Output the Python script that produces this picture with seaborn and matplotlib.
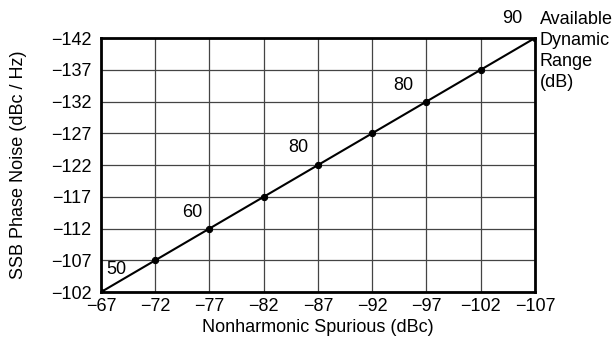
import matplotlib
matplotlib.use("Agg")
import matplotlib.pyplot as plt
import seaborn as sns
import pandas as pd

spurious = [-67, -72, -77, -82, -87, -92, -97, -102, -107]
phase_noise = [-102, -107, -112, -117, -122, -127, -132, -137, -142]
range_labels = ["50", "60", "80", "80", "90"]
range_label_x = [-68.4, -75.4, -85.2, -94.9, -104.9]
range_label_y = [-105.5, -114.6, -124.7, -134.6, -145.0]

sns.set_theme(style="white")
plt.rcParams['font.family'] = ['Liberation Sans', 'DejaVu Sans']

df = pd.DataFrame({"x": spurious, "y": phase_noise})

fig = plt.figure(figsize=(6.14, 3.44), dpi=100)
ax = fig.add_axes([0.1645, 0.151, 0.7068, 0.7385])

sns.lineplot(data=df, x="x", y="y", ax=ax, color="black", linewidth=1.5,
             marker="o", markersize=4.5, markeredgecolor="black", zorder=5)

FS = 13
ax.set_xlim(spurious[0], spurious[-1])
ax.set_ylim(phase_noise[0], phase_noise[-1])
ax.set_xticks(spurious)
ax.set_yticks(phase_noise)
ax.set_xticklabels([f"\u2212{abs(v)}" for v in spurious], fontsize=FS)
ax.set_yticklabels([f"\u2212{abs(v)}" for v in phase_noise], fontsize=FS)
ax.tick_params(axis="y", length=0, pad=7, colors="black")
ax.tick_params(axis="x", length=0, pad=4, colors="black")
ax.grid(True, color="#444444", linewidth=0.9)
for s in ax.spines.values():
    s.set_color("black")
    s.set_linewidth(2)
ax.set_xlabel("Nonharmonic Spurious (dBc)", fontsize=FS, color="black", labelpad=3)
ax.set_ylabel("SSB Phase Noise (dBc / Hz)", fontsize=FS, color="black", labelpad=17)

for t, x, y in zip(range_labels, range_label_x, range_label_y):
    ax.text(x, y, t, fontsize=FS, ha="center", va="center", color="black",
            clip_on=False, zorder=6)

fig.text(0.879, 0.968, "Available\nDynamic\nRange\n(dB)", fontsize=FS,
         ha="left", va="top", color="black", linespacing=1.32)

fig.savefig("out.png", dpi=100)
